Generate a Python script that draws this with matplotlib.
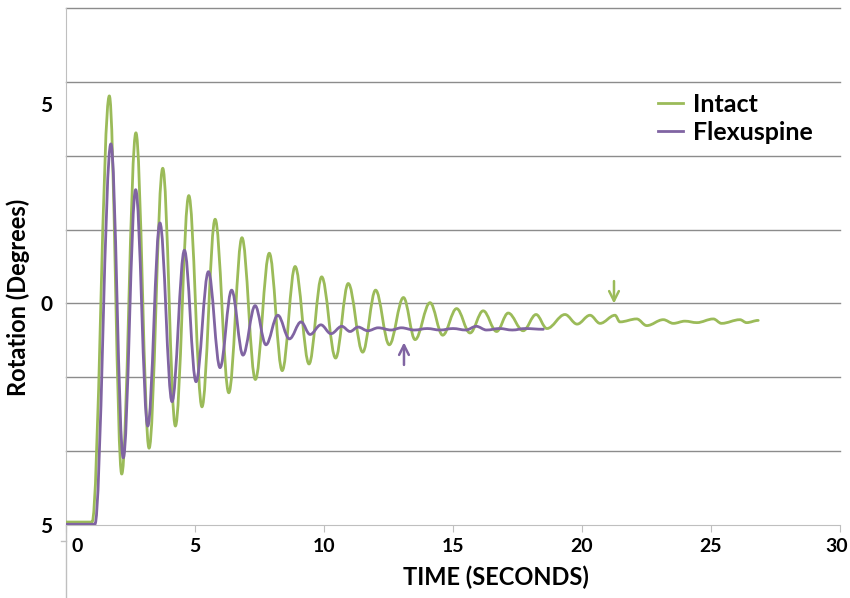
import matplotlib
matplotlib.use("Agg")
import matplotlib.pyplot as plt
from matplotlib.path import Path
from matplotlib.patches import PathPatch
from matplotlib.transforms import ScaledTranslation

plt.rcParams['font.family'] = ['Lato', 'DejaVu Sans']

# Data: turning points of each trace (time in s, rotation in grid units)
intact_t = [0.00, 1.01, 1.68, 2.16, 2.71, 3.22, 3.75, 4.24, 4.76, 5.27, 5.78, 6.31,
            6.82, 7.34, 7.88, 8.38, 8.88, 9.42, 9.91, 10.45, 10.94, 11.50, 12.00,
            12.53, 13.08, 13.53, 14.11, 14.60, 15.14, 15.66, 16.17, 16.69, 17.14,
            17.72, 18.22, 18.64, 19.34, 19.81, 20.31, 20.70, 21.28, 21.47, 22.12,
            22.51, 23.15, 23.54, 23.99, 24.45, 25.09, 25.41, 26.12, 26.38, 26.83]
intact_v = [-2.96, -2.96, 2.81, -2.31, 2.31, -1.96, 1.83, -1.66, 1.46, -1.40, 1.14, -1.21,
            0.89, -1.03, 0.68, -0.91, 0.50, -0.82, 0.36, -0.74, 0.27, -0.66, 0.18,
            -0.56, 0.08, -0.49, 0.01, -0.43, -0.07, -0.40, -0.10, -0.38, -0.13,
            -0.37, -0.15, -0.34, -0.15, -0.28, -0.16, -0.27, -0.16, -0.25, -0.21,
            -0.30, -0.22, -0.27, -0.24, -0.26, -0.21, -0.27, -0.22, -0.26, -0.23]

flex_t = [0.00, 1.12, 1.74, 2.22, 2.70, 3.17, 3.64, 4.11, 4.59, 5.04, 5.52, 5.97,
          6.42, 6.86, 7.33, 7.75, 8.21, 8.66, 9.11, 9.46, 9.88, 10.27, 10.69, 11.01,
          11.32, 11.70, 12.10, 12.60, 13.00, 13.50, 14.00, 14.50, 15.00, 15.50,
          15.90, 16.30, 16.80, 17.30, 17.80, 18.50]
flex_v = [-2.99, -2.99, 2.16, -2.09, 1.54, -1.66, 1.09, -1.33, 0.72, -1.06, 0.43, -0.87,
          0.18, -0.70, -0.03, -0.56, -0.16, -0.48, -0.25, -0.42, -0.29, -0.41, -0.31, -0.38,
          -0.32, -0.37, -0.33, -0.36, -0.33, -0.36, -0.34, -0.36, -0.34, -0.36,
          -0.31, -0.36, -0.34, -0.36, -0.34, -0.35]

x_ticks = [0, 5, 10, 15, 20, 25, 30]
y_tick_pos = [-3, 0, 2.7]
y_tick_labels = ['5', '0', '5']
grid_levels = [-2, -1, 0, 1, 2, 3, 4]

green = '#9BBB59'
purple = '#8064A2'


def wave_path(t, v, a=0.363):
    # smooth curve through turning points (flat tangent at each one)
    verts = [(t[0], v[0])]
    codes = [Path.MOVETO]
    for i in range(1, len(t)):
        dt = t[i] - t[i - 1]
        verts += [(t[i - 1] + a * dt, v[i - 1]), (t[i] - a * dt, v[i]), (t[i], v[i])]
        codes += [Path.CURVE4] * 3
    return Path(verts, codes)


fig = plt.figure(figsize=(8.5, 5.98), dpi=100)
ax = fig.add_axes([66 / 850, 73 / 598, 774 / 850, 517 / 598])

for g in grid_levels:
    ax.axhline(g, color='#8c8c8c', lw=1, zorder=0, clip_on=False)

ax.add_patch(PathPatch(wave_path(intact_t, intact_v), fill=False, edgecolor=green,
                       lw=2.0, capstyle='round', joinstyle='round', zorder=3))
ax.add_patch(PathPatch(wave_path(flex_t, flex_v), fill=False, edgecolor=purple,
                       lw=2.0, capstyle='round', joinstyle='round', zorder=4))

# arrows marking end of oscillation
astyle = '->,head_length=0.7,head_width=0.35'
ax.annotate('', xy=(13.10, -0.49), xytext=(13.10, -0.87),
            arrowprops=dict(arrowstyle=astyle, color=purple, lw=1.8))
ax.annotate('', xy=(21.24, -0.04), xytext=(21.24, 0.34), zorder=5,
            arrowprops=dict(arrowstyle=astyle, color='white', lw=5))
ax.annotate('', xy=(21.24, -0.04), xytext=(21.24, 0.34), zorder=6,
            arrowprops=dict(arrowstyle=astyle, color=green, lw=1.8))

ax.set_xlim(0, 30)
ax.set_ylim(-3, 4)

ax.set_xticks(x_ticks)
ax.set_xticklabels([str(x) for x in x_ticks])
ax.set_yticks(y_tick_pos)
ax.set_yticklabels(y_tick_labels)
ax.tick_params(axis='x', length=5, color='#bfbfbf', labelsize=14, pad=4)
ax.tick_params(axis='y', length=0, labelsize=15, pad=10)
for lab in ax.get_xticklabels() + ax.get_yticklabels():
    lab.set_fontweight('bold')
# the "0" label sits a little right of the axis, "30" a touch left
xlabs = ax.get_xticklabels()
xlabs[0].set_transform(xlabs[0].get_transform() + ScaledTranslation(11 / 100, 0, fig.dpi_scale_trans))
xlabs[-1].set_transform(xlabs[-1].get_transform() + ScaledTranslation(-3 / 100, 0, fig.dpi_scale_trans))

for s in ['top', 'right']:
    ax.spines[s].set_visible(False)
ax.spines['bottom'].set_color('#bfbfbf')
ax.spines['left'].set_color('#bfbfbf')
# y axis line runs on below the x axis
ax.plot([0, 0], [-0.145, 0], transform=ax.transAxes, color='#bfbfbf', lw=1, clip_on=False)
ax.plot([-0.006, 0], [-0.03, -0.03], transform=ax.transAxes, color='#bfbfbf', lw=1, clip_on=False)

ax.set_xlabel('TIME (SECONDS)', fontsize=17, fontweight='bold')
ax.xaxis.set_label_coords(0.556, -0.078)
ax.set_ylabel('Rotation (Degrees)', fontsize=17, fontweight='bold')
ax.yaxis.set_label_coords(-0.046, 0.44)

ax.plot([], [], color=green, lw=2, label='Intact')
ax.plot([], [], color=purple, lw=2, label='Flexuspine')
ax.legend(loc='upper left', bbox_to_anchor=(0.752, 0.855), borderaxespad=0, frameon=False,
          handlelength=1.0, handletextpad=0.4, labelspacing=0.2,
          prop={'weight': 'bold', 'size': 18})

plt.savefig('out.png', dpi=100)
